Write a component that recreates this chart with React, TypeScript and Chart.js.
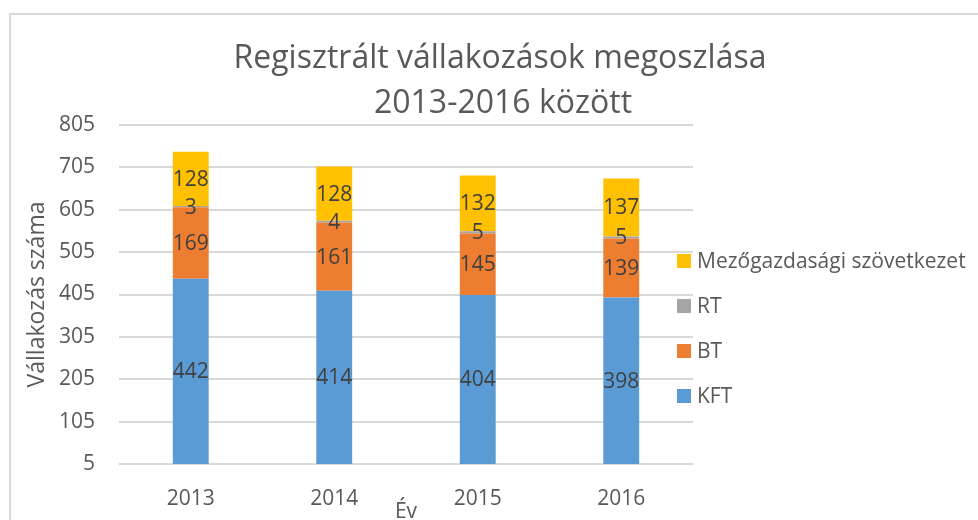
import React, { useEffect, useRef } from "react";
import { Chart, registerables } from "chart.js";

Chart.register(...registerables);

const years = ["2013", "2014", "2015", "2016"];
const kft = [442, 414, 404, 398];
const bt = [169, 161, 145, 139];
const rt = [3, 4, 5, 5];
const mezo = [128, 128, 132, 137];
const seriesNames = ["KFT", "BT", "RT", "Mezőgazdasági szövetkezet"];
const seriesColors = ["#5B9BD5", "#ED7D31", "#A5A5A5", "#FFC000"];
const titleLines = ["Regisztrált vállakozások megoszlása", "2013-2016 között"];
const yTitle = "Vállakozás száma";
const xTitle = "Év";

const FONT = "'Open Sans', sans-serif";
const TEXT = "#595959";

const W = 967;
const H = 540;

const titlePlugin = {
  id: "customTitle",
  afterDraw(chart: any) {
    const ctx = chart.ctx;
    ctx.save();
    ctx.fillStyle = TEXT;
    ctx.font = `32px ${FONT}`;
    ctx.textAlign = "center";
    ctx.textBaseline = "middle";
    ctx.fillText(titleLines[0], 489, 44);
    ctx.fillText(titleLines[1], 492, 89);
    ctx.restore();
  },
};

const labelPlugin = {
  id: "segLabels",
  afterDatasetsDraw(chart: any) {
    const ctx = chart.ctx;
    ctx.save();
    ctx.fillStyle = "#404040";
    ctx.font = `21px ${FONT}`;
    ctx.textAlign = "center";
    ctx.textBaseline = "middle";
    chart.data.datasets.forEach((ds: any, di: number) => {
      const meta = chart.getDatasetMeta(di);
      meta.data.forEach((el: any, i: number) => {
        const bottom = Math.min(el.base, chart.chartArea.bottom);
        const cy = (el.y + bottom) / 2;
        ctx.fillText(String(ds.data[i]), el.x, cy + 1);
      });
    });
    ctx.restore();
  },
};

const legendPlugin = {
  id: "customLegend",
  afterDraw(chart: any) {
    const ctx = chart.ctx;
    ctx.save();
    ctx.font = `21px ${FONT}`;
    ctx.textBaseline = "middle";
    ctx.textAlign = "left";
    const ds = chart.data.datasets;
    const n = ds.length;
    for (let k = 0; k < n; k++) {
      const d = ds[n - 1 - k];
      const cy = 246 + k * 45;
      ctx.fillStyle = d.backgroundColor;
      ctx.fillRect(666, cy - 7, 14, 14);
      ctx.fillStyle = TEXT;
      ctx.fillText(d.label, 686, cy + 1);
    }
    ctx.restore();
  },
};

export default function App() {
  const ref = useRef<HTMLCanvasElement>(null);
  useEffect(() => {
    document.documentElement.style.overflow = "hidden";
    document.body.style.overflow = "hidden";
    const values = [kft, bt, rt, mezo];
    const chart = new Chart(ref.current!, {
      type: "bar",
      data: {
        labels: years,
        datasets: values.map((v, i) => ({
          label: seriesNames[i],
          data: v,
          backgroundColor: seriesColors[i],
          borderWidth: 0,
          categoryPercentage: 1,
          barPercentage: 0.25,
        })),
      },
      options: {
        responsive: false,
        animation: false,
        devicePixelRatio: 1,
        layout: { padding: { top: 110, right: 285, left: 0, bottom: 0 } },
        plugins: {
          legend: { display: false },
          title: { display: false },
          tooltip: { enabled: false },
        },
        scales: {
          x: {
            stacked: true,
            grid: { display: false },
            border: { display: false },
            ticks: { color: TEXT, font: { family: FONT, size: 21 }, padding: 14 },
            title: {
              display: true,
              text: xTitle,
              color: TEXT,
              font: { family: FONT, size: 21 },
              padding: { top: 0, bottom: 30 },
            },
            afterFit: (s: any) => {
              s.height = 91;
            },
          },
          y: {
            stacked: true,
            min: 5,
            max: 805,
            grid: { color: "#D9D9D9", lineWidth: 2, drawTicks: false },
            border: { display: false },
            ticks: {
              stepSize: 100,
              color: TEXT,
              font: { family: FONT, size: 21 },
              padding: 24,
            },
            title: {
              display: true,
              text: yTitle,
              color: TEXT,
              font: { family: FONT, size: 23 },
              padding: { top: 13, bottom: 0 },
            },
            afterFit: (s: any) => {
              s.width = 108;
            },
          },
        },
      },
      plugins: [titlePlugin, labelPlugin, legendPlugin],
    });
    return () => chart.destroy();
  }, []);
  return (
    <div
      style={{
        position: "absolute",
        left: 9,
        top: 13,
        width: 969,
        height: 507,
        overflow: "hidden",
        borderTop: "2px solid #D9D9D9",
        borderLeft: "2px solid #D9D9D9",
        boxSizing: "border-box",
        background: "#fff",
      }}
    >
      <canvas ref={ref} width={W} height={H} style={{ display: "block", width: W, height: H }} />
    </div>
  );
}
